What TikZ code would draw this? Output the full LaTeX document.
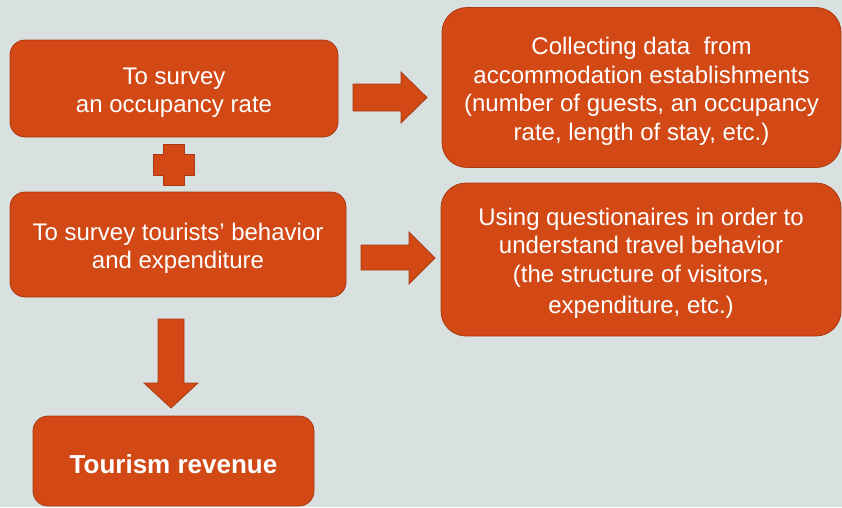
\documentclass[tikz,border=0pt]{standalone}
\usepackage{fontspec}
\setmainfont{Liberation Sans}
\definecolor{SlideBack}{RGB}{216,225,224}
\definecolor{BoxOrange}{RGB}{210,73,22}
\definecolor{BoxEdge}{RGB}{170,58,20}
% taller first line, so that the text sits a little low in its box
\newcommand{\toppad}{\rule{0pt}{25pt}}
\tikzset{
  box/.style={draw=BoxEdge, fill=BoxOrange, line width=0.8pt, text=white,
    align=center, inner sep=0pt, font=\fontsize{24}{28.5}\selectfont},
  blockarrow/.style={draw=BoxEdge, fill=BoxOrange, line width=0.8pt},
}

\begin{document}
\begin{tikzpicture}[x=1pt, y=-1pt]

  % --- background ---
  \fill[SlideBack] (0,0) rectangle (842,507);
  \useasboundingbox (0,0) rectangle (842,507);

  % --- left column ---
  \node[box, rounded corners=15pt, minimum width=328pt, minimum height=97pt]
    (occupancy) at (174,88.5) {\toppad To survey\\an occupancy rate};
  \node[box, rounded corners=15pt, minimum width=336pt, minimum height=105pt]
    (behavior) at (178,244.5) {\toppad To survey tourists' behavior\\and expenditure};
  \node[box, rounded corners=15pt, minimum width=281pt, minimum height=90pt,
    font=\fontsize{26}{30}\selectfont\bfseries]
    (revenue) at (173.5,461) {\toppad Tourism revenue};

  % --- right column ---
  \node[box, rounded corners=25pt, minimum width=399pt, minimum height=160pt]
    (collecting) at (641.5,87.5)
    {\toppad Collecting data\ \ from\\accommodation establishments\\(number of guests, an occupancy\\rate, length of stay, etc.)};
  \node[box, rounded corners=25pt, minimum width=400pt, minimum height=153pt]
    (questionaires) at (641,259.5)
    {\toppad Using questionaires in order to\\understand travel behavior\\(the structure of visitors,\\[3pt]expenditure, etc.)};

  % --- block arrows ---
  \path[blockarrow] (353,84) -- (401,84) -- (401,72) -- (427,97.5)
    -- (401,123) -- (401,111) -- (353,111) -- cycle;
  \path[blockarrow] (361,245) -- (409,245) -- (409,232) -- (435,258)
    -- (409,284) -- (409,270) -- (361,270) -- cycle;
  \path[blockarrow] (158,319) -- (184,319) -- (184,383) -- (198,383)
    -- (171,408) -- (144,383) -- (158,383) -- cycle;

  % plus sign between the two surveys
  \path[blockarrow] (163,144) -- (184,144) -- (184,154) -- (194,154)
    -- (194,175) -- (184,175) -- (184,185) -- (163,185) -- (163,175)
    -- (153,175) -- (153,154) -- (163,154) -- cycle;

\end{tikzpicture}
\end{document}
